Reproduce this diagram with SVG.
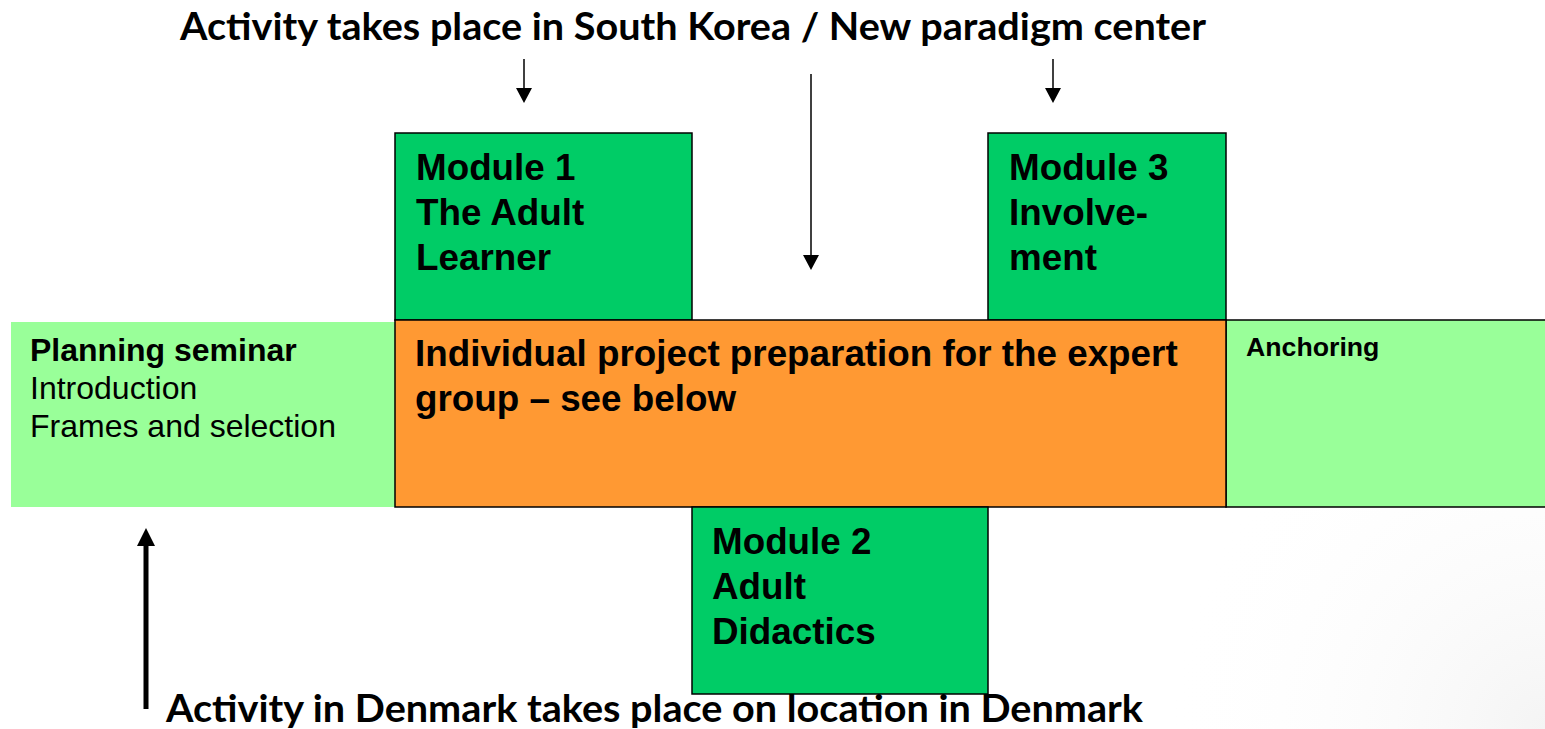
<svg xmlns="http://www.w3.org/2000/svg" width="1545" height="729" viewBox="0 0 1545 729">
<style>
.box{stroke:#000;stroke-width:1.5}
.mod{fill:#00CC66}
.org{fill:#FF9933}
.lg{fill:#99FF99}
.t{font-family:"Liberation Sans",Arial,sans-serif;fill:#000}
.b{font-weight:bold}
.m{font-size:36.8px;font-weight:bold}
.cap{font-family:Lato,"Open Sans",sans-serif;font-weight:bold;font-size:37.3px;fill:#000}
.arr{stroke:#000;stroke-width:1.5;fill:none}
</style>
<defs>
<radialGradient id="shade" cx="1545" cy="729" r="380" gradientUnits="userSpaceOnUse">
<stop offset="0" stop-color="#f4f4f4"/>
<stop offset="1" stop-color="#ffffff" stop-opacity="0"/>
</radialGradient>
</defs>
<rect width="1545" height="729" fill="#fff"/>
<rect x="1150" y="420" width="395" height="309" fill="url(#shade)"/>

<g id="planning">
<rect x="11" y="322" width="384" height="185" class="lg"/>
<text class="t" font-size="32" x="30" y="361"><tspan class="b">Planning seminar</tspan><tspan x="30" y="399">Introduction</tspan><tspan x="30" y="437">Frames and selection</tspan></text>
</g>

<g id="module1">
<rect x="395" y="133" width="297" height="187" class="box mod"/>
<text class="t m" x="416" y="180">Module 1<tspan x="416" y="225">The Adult</tspan><tspan x="416" y="270">Learner</tspan></text>
</g>

<g id="module3">
<rect x="988" y="133" width="238" height="187" class="box mod"/>
<text class="t m" x="1009" y="180">Module 3<tspan x="1009" y="225">Involve-</tspan><tspan x="1009" y="270">ment</tspan></text>
</g>

<g id="anchoring">
<path d="M1226 320H1550V507H1226Z" class="box lg"/>
<text class="t b" font-size="26.7" x="1246" y="356">Anchoring</text>
</g>

<g id="preparation">
<rect x="395" y="320" width="831" height="187" class="box org"/>
<text class="t m" x="415" y="366">Individual project preparation for the expert<tspan x="415" y="411">group – see below</tspan></text>
</g>

<g id="module2">
<rect x="692" y="507" width="296" height="187" class="box mod"/>
<text class="t m" x="712" y="554">Module 2<tspan x="712" y="599">Adult</tspan><tspan x="712" y="644">Didactics</tspan></text>
</g>

<g id="connectors">
<line x1="524" y1="59" x2="524" y2="90" class="arr"/>
<polygon points="516,88 532,88 524,103"/>
<line x1="811" y1="74" x2="811" y2="257" class="arr"/>
<polygon points="803,255 819,255 811,270"/>
<line x1="1053" y1="59" x2="1053" y2="90" class="arr"/>
<polygon points="1045,88 1061,88 1053,103"/>
<line x1="146" y1="709" x2="146" y2="543" stroke="#000" stroke-width="5"/>
<polygon points="137,546 155,546 146,528"/>
</g>

<g id="captions">
<text class="cap" x="180" y="40" textLength="1026" lengthAdjust="spacingAndGlyphs">Activity takes place in South Korea / New paradigm center</text>
<text class="cap" x="166" y="722" textLength="977" lengthAdjust="spacingAndGlyphs">Activity in Denmark takes place on location in Denmark</text>
</g>
</svg>
